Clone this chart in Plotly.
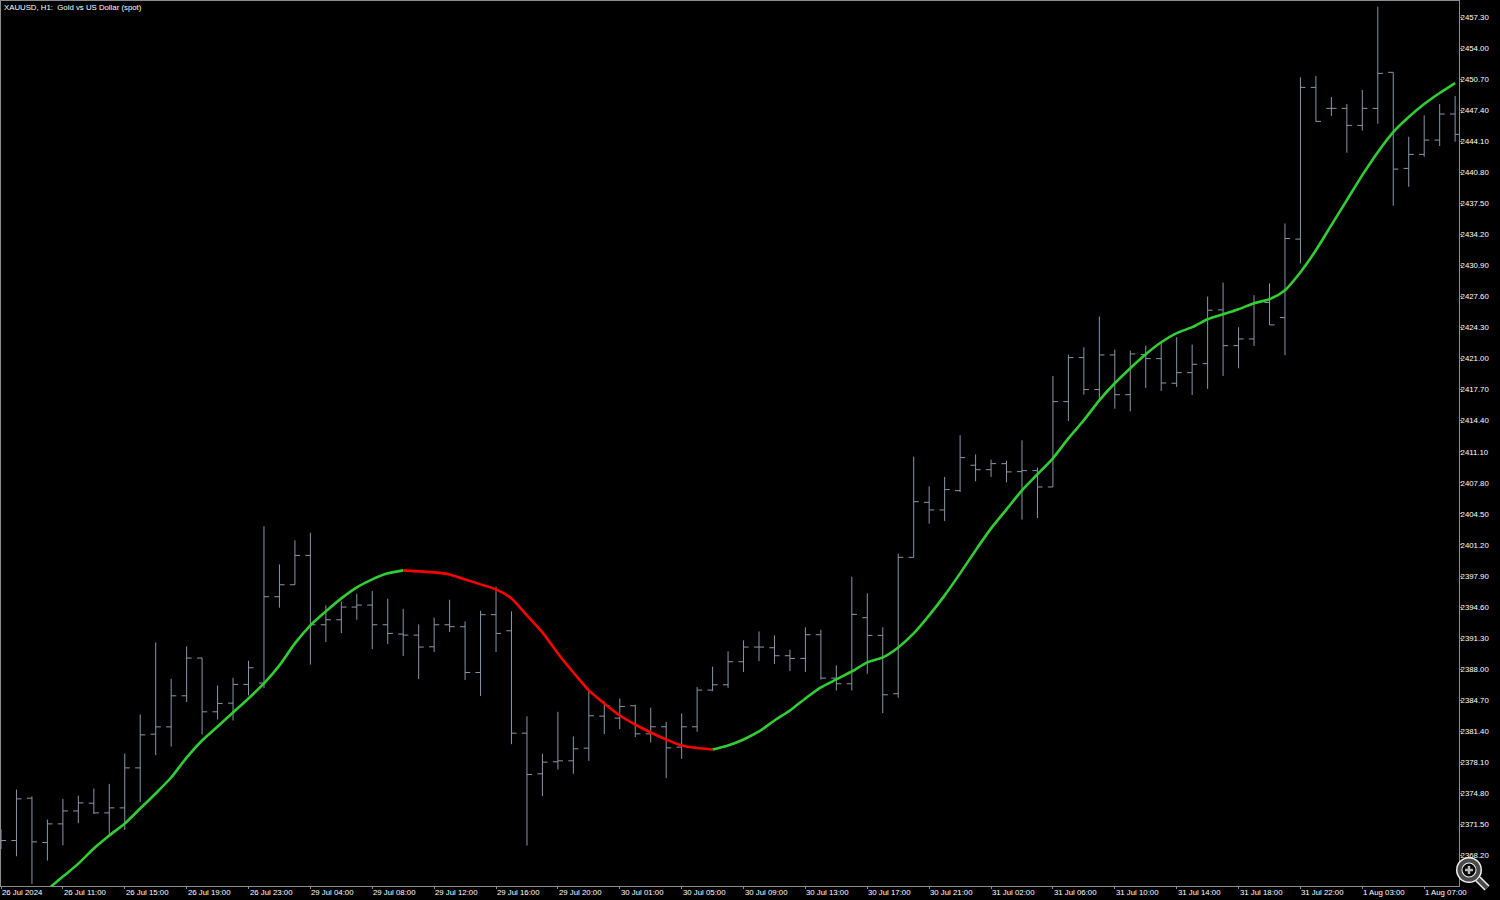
"""XAUUSD H1 bars with a smoothed moving average, MetaTrader style."""

import plotly.graph_objects as go

WIDTH, HEIGHT = 1500, 900
LEFT, RIGHT, TOP, BOTTOM = 1, 41, 1, 14

TITLE = "XAUUSD, H1:  Gold vs US Dollar (spot)"

opens = [
    2369.60, 2369.79, 2374.29, 2369.58, 2371.56, 2372.94, 2373.76, 2372.73, 2373.26, 2377.51,
    2381.09, 2381.87, 2385.17, 2389.18, 2383.47, 2384.39, 2386.38, 2386.52, 2395.70, 2396.97,
    2400.09, 2392.72, 2393.25, 2394.60, 2394.81, 2392.72, 2391.73, 2391.62, 2390.38, 2392.72,
    2392.51, 2387.65, 2393.79, 2392.08, 2381.20, 2376.88, 2378.16, 2378.26, 2379.61, 2383.01,
    2382.80, 2384.11, 2381.13, 2381.88, 2379.72, 2381.88, 2385.78, 2386.34, 2388.79, 2390.35,
    2390.28, 2389.43, 2389.14, 2391.66, 2387.05, 2386.45, 2393.47, 2391.59, 2385.39, 2399.88,
    2405.73, 2404.92, 2406.97, 2409.67, 2409.20, 2409.84, 2408.99, 2409.10, 2407.36, 2416.43,
    2421.11, 2417.71, 2421.39, 2417.17, 2421.43, 2421.00, 2418.38, 2419.51, 2420.47, 2426.18,
    2422.38, 2423.09, 2426.96, 2425.36, 2433.70, 2449.82, 2447.59, 2447.59, 2445.78, 2447.59,
    2451.42, 2441.21, 2442.70, 2444.22, 2446.99,
]
highs = [
    2371.00, 2375.21, 2374.47, 2372.02, 2374.22, 2374.57, 2375.32, 2375.81, 2379.04, 2383.19,
    2390.84, 2386.98, 2390.42, 2389.21, 2386.27, 2387.08, 2388.89, 2403.18, 2399.13, 2401.69,
    2402.50, 2394.78, 2395.20, 2396.02, 2396.30, 2395.49, 2394.42, 2392.76, 2393.47, 2395.38,
    2393.08, 2394.21, 2396.76, 2394.14, 2382.98, 2379.01, 2383.47, 2380.85, 2385.67, 2384.57,
    2384.89, 2384.22, 2383.90, 2382.41, 2383.30, 2386.10, 2388.26, 2389.89, 2391.06, 2392.01,
    2391.59, 2390.07, 2392.44, 2392.19, 2388.40, 2397.83, 2396.06, 2392.44, 2400.27, 2410.59,
    2407.43, 2408.42, 2412.86, 2410.83, 2410.27, 2410.13, 2412.32, 2409.42, 2419.16, 2421.43,
    2422.21, 2425.47, 2421.96, 2421.85, 2422.38, 2422.77, 2423.27, 2422.49, 2427.59, 2429.08,
    2424.33, 2427.74, 2428.98, 2435.36, 2450.89, 2451.03, 2448.80, 2448.05, 2449.54, 2458.40,
    2451.42, 2444.58, 2446.85, 2448.05, 2448.90,
]
lows = [
    2368.90, 2368.12, 2365.18, 2367.66, 2369.29, 2371.63, 2372.62, 2370.32, 2370.92, 2373.86,
    2378.86, 2379.78, 2384.50, 2381.06, 2382.65, 2382.55, 2385.21, 2385.99, 2394.53, 2396.97,
    2388.50, 2390.88, 2391.83, 2393.25, 2390.14, 2390.67, 2389.39, 2386.95, 2389.82, 2391.94,
    2386.84, 2385.14, 2389.82, 2380.03, 2369.26, 2374.51, 2377.34, 2376.88, 2378.26, 2381.10,
    2381.63, 2380.78, 2380.21, 2376.42, 2378.47, 2381.35, 2385.67, 2386.02, 2387.69, 2388.86,
    2388.54, 2387.80, 2387.69, 2386.88, 2385.74, 2385.74, 2387.51, 2383.33, 2384.96, 2399.85,
    2403.46, 2403.75, 2406.83, 2407.96, 2408.42, 2407.86, 2403.89, 2404.06, 2407.36, 2414.37,
    2417.17, 2416.39, 2415.68, 2415.40, 2417.88, 2417.56, 2417.99, 2417.14, 2417.78, 2419.16,
    2419.97, 2422.35, 2424.58, 2421.36, 2431.11, 2446.17, 2446.78, 2442.88, 2445.22, 2445.96,
    2437.24, 2439.26, 2442.45, 2443.59, 2444.05,
]
closes = [
    2369.79, 2374.22, 2369.65, 2371.56, 2372.94, 2373.79, 2372.73, 2373.26, 2377.51, 2381.02,
    2381.87, 2385.17, 2389.18, 2383.47, 2384.36, 2386.38, 2388.15, 2395.70, 2396.97, 2400.09,
    2392.72, 2393.25, 2394.60, 2394.81, 2392.72, 2391.80, 2391.62, 2390.35, 2392.72, 2392.51,
    2387.65, 2393.79, 2391.80, 2381.20, 2376.81, 2378.12, 2378.26, 2379.54, 2383.05, 2384.14,
    2384.04, 2381.13, 2381.88, 2379.64, 2381.88, 2385.78, 2386.34, 2388.79, 2390.35, 2390.35,
    2389.43, 2389.14, 2391.66, 2387.05, 2386.45, 2393.82, 2391.59, 2385.28, 2399.88, 2405.80,
    2404.92, 2407.08, 2410.48, 2409.20, 2409.84, 2408.96, 2409.10, 2407.36, 2416.43, 2421.11,
    2417.71, 2421.39, 2417.17, 2421.50, 2421.00, 2418.41, 2419.51, 2420.40, 2426.14, 2422.38,
    2423.09, 2426.96, 2424.58, 2433.76, 2449.82, 2446.21, 2447.59, 2445.78, 2447.59, 2451.31,
    2441.14, 2442.70, 2444.22, 2446.99, 2444.83,
]

# moving average starts on bar 3, the part below the price range gets clipped
ma_start = 3
ma_values = [
    2364.58, 2365.96, 2367.34, 2368.94, 2370.32, 2371.60, 2373.19, 2374.79, 2376.49, 2378.61,
    2380.42, 2381.91, 2383.40, 2384.89, 2386.48, 2388.40, 2390.74, 2392.65, 2394.14, 2395.52,
    2396.69, 2397.54, 2398.18, 2398.50, 2398.39, 2398.29, 2398.07, 2397.54, 2397.01, 2396.48,
    2395.52, 2393.71, 2391.91, 2389.67, 2387.65, 2385.74, 2384.36, 2383.08, 2382.12, 2381.27,
    2380.53, 2379.89, 2379.62, 2379.47, 2379.89, 2380.53, 2381.38, 2382.55, 2383.61, 2384.89,
    2386.06, 2386.91, 2387.76, 2388.72, 2389.25, 2390.31, 2391.80, 2393.71, 2395.84, 2398.18,
    2400.62, 2402.96, 2404.98, 2407.00, 2408.71, 2410.41, 2412.53, 2414.45, 2416.57, 2418.38,
    2419.98, 2421.47, 2422.74, 2423.70, 2424.34, 2425.19, 2425.72, 2426.25, 2426.89, 2427.31,
    2428.27, 2430.18, 2432.52, 2435.18, 2437.84, 2440.50, 2442.94, 2445.07, 2446.67, 2448.05,
    2449.22, 2450.28,
]
# the average falls between these two bars
red_from, red_to = 26, 46

time_labels = [
    "26 Jul 2024", "26 Jul 11:00", "26 Jul 15:00", "26 Jul 19:00", "26 Jul 23:00",
    "29 Jul 04:00", "29 Jul 08:00", "29 Jul 12:00", "29 Jul 16:00", "29 Jul 20:00",
    "30 Jul 01:00", "30 Jul 05:00", "30 Jul 09:00", "30 Jul 13:00", "30 Jul 17:00",
    "30 Jul 21:00", "31 Jul 02:00", "31 Jul 06:00", "31 Jul 10:00", "31 Jul 14:00",
    "31 Jul 18:00", "31 Jul 22:00", "1 Aug 03:00", "1 Aug 07:00",
]
time_tick_bars = list(range(0, 96, 4))
price_ticks = [2368.20 + 3.30 * i for i in range(28)]

BAR_COLOR = "#8796a8"
UP_COLOR = "#32cd32"
DOWN_COLOR = "#ff0000"
FRAME_COLOR = "#8c8c8c"
TEXT_COLOR = "#ffffff"
FONT = "Liberation Sans"
FONT_SIZE = 7.8


def px_x(x):
    return (x - LEFT) / (WIDTH - LEFT - RIGHT)


def px_y(y):
    return (HEIGHT - BOTTOM - y) / (HEIGHT - TOP - BOTTOM)


def loupe_shapes():
    """The magnifier overlay sitting in the bottom right corner."""
    cx, cy = 1469, 870
    shapes = []
    for radius, fill in [(13, "#f0f0f0"), (11.5, "#4a4a4a"), (7.5, "#f0f0f0"), (6.5, "#000000")]:
        shapes.append(dict(
            type="circle", xref="paper", yref="paper",
            x0=px_x(cx - radius), x1=px_x(cx + radius),
            y0=px_y(cy + radius), y1=px_y(cy - radius),
            fillcolor=fill, line=dict(width=0),
        ))
    for x0, y0, x1, y1, color, width in [
        (1478, 879, 1487, 888, "#f0f0f0", 7),
        (1478, 879, 1487, 888, "#4a4a4a", 4),
        (cx - 4, cy, cx + 4, cy, "#b8b8b8", 2.5),
        (cx, cy - 4, cx, cy + 4, "#b8b8b8", 2.5),
    ]:
        shapes.append(dict(
            type="line", xref="paper", yref="paper",
            x0=px_x(x0), x1=px_x(x1), y0=px_y(y0), y1=px_y(y1),
            line=dict(color=color, width=width),
        ))
    return shapes


bars = list(range(len(closes)))
ma_bars = bars[ma_start:]

fig = go.Figure()
fig.add_trace(go.Ohlc(
    x=bars, open=opens, high=highs, low=lows, close=closes,
    tickwidth=0.33,
    increasing=dict(line=dict(color=BAR_COLOR, width=1)),
    decreasing=dict(line=dict(color=BAR_COLOR, width=1)),
    hoverinfo="skip",
))

segments = [
    (ma_start, red_from, UP_COLOR),
    (red_from, red_to, DOWN_COLOR),
    (red_to, len(bars) - 1, UP_COLOR),
]
for first, last, color in segments:
    i0, i1 = first - ma_start, last - ma_start + 1
    fig.add_trace(go.Scatter(
        x=ma_bars[i0:i1], y=ma_values[i0:i1],
        mode="lines",
        line=dict(color=color, width=2.6, shape="spline", smoothing=0.7),
        hoverinfo="skip",
    ))

annotations = [dict(
    text=TITLE, xref="paper", yref="paper", x=0, y=1,
    xanchor="left", yanchor="top", xshift=2, yshift=-1, borderpad=0, showarrow=False,
    font=dict(family=FONT, size=FONT_SIZE, color=TEXT_COLOR),
)]
for bar, label in zip(time_tick_bars, time_labels):
    annotations.append(dict(
        text=label, xref="x", yref="paper", x=bar, y=0,
        xanchor="left", yanchor="top", yshift=-1, borderpad=0, showarrow=False,
        font=dict(family=FONT, size=FONT_SIZE, color=TEXT_COLOR),
    ))

fig.update_layout(
    width=WIDTH, height=HEIGHT,
    margin=dict(l=LEFT, r=RIGHT, t=TOP, b=BOTTOM, pad=0),
    paper_bgcolor="#000000", plot_bgcolor="#000000",
    showlegend=False,
    annotations=annotations,
    shapes=loupe_shapes(),
    xaxis=dict(
        type="linear", range=[0, 94.25], rangeslider=dict(visible=False),
        tickvals=time_tick_bars[:len(time_labels)], showticklabels=False,
        ticks="outside", ticklen=2, tickcolor=FRAME_COLOR,
        showgrid=False, zeroline=False,
        showline=True, linecolor=FRAME_COLOR, linewidth=1, mirror=True,
    ),
    yaxis=dict(
        side="right", range=[2364.96, 2459.0],
        tickvals=price_ticks, ticktext=[f"{p:.2f}" for p in price_ticks],
        ticks="outside", ticklen=2, tickcolor=FRAME_COLOR,
        ticklabelstandoff=-3,
        tickfont=dict(family=FONT, size=FONT_SIZE, color=TEXT_COLOR),
        showgrid=False, zeroline=False,
        showline=True, linecolor=FRAME_COLOR, linewidth=1, mirror=True,
    ),
)

fig.write_html(
    "out.html",
    config={"displayModeBar": False},
    post_script="document.body.style.margin='0';document.body.style.background='#000';",
)
